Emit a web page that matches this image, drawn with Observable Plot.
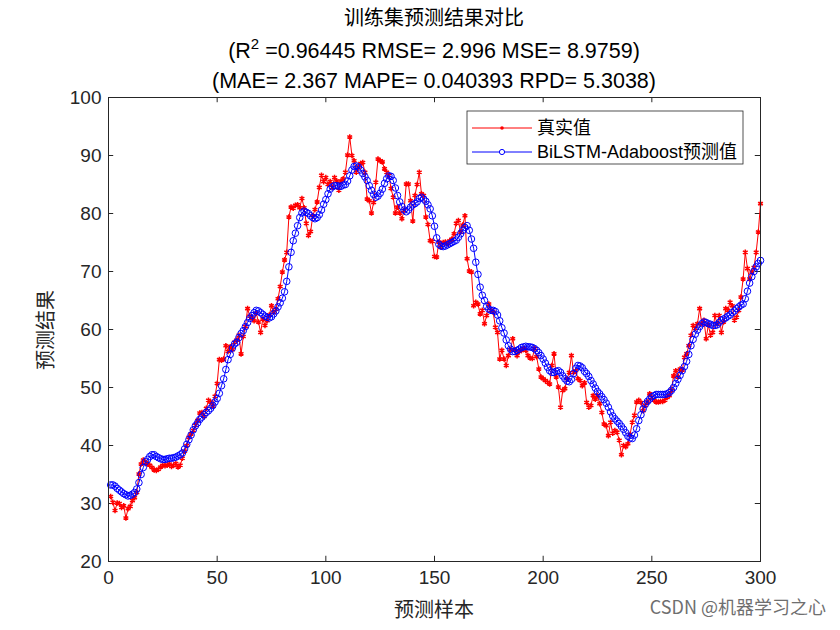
<!DOCTYPE html>
<html><head><meta charset="utf-8">
<script src="https://cdn.jsdelivr.net/npm/d3@7"></script>
<script src="https://cdn.jsdelivr.net/npm/@observablehq/plot@0.6"></script>
<style>body{margin:0;background:#fff} svg{display:block}</style>
</head><body><div id="chart"></div>
<script>
const actual = [
31.2,30.2,28.8,30.1,30.0,29.3,29.6,27.5,29.1,29.5,
30.5,31.0,31.9,35.1,36.8,37.5,37.1,36.8,36.6,36.2,
35.8,35.7,35.9,36.3,36.6,36.5,36.6,36.8,36.4,36.6,
36.9,36.3,36.6,37.8,39.0,40.0,41.4,42.0,42.6,43.5,
44.3,45.6,45.7,45.0,46.4,47.8,47.5,46.8,48.5,50.7,
54.8,54.7,54.9,57.2,56.2,57.0,56.5,57.8,58.2,59.0,
55.8,58.8,60.5,63.6,62.3,62.0,61.5,62.8,61.3,59.5,
61.8,60.7,61.5,62.5,64.1,63.0,63.5,65.3,67.4,69.9,
72.0,73.3,79.4,81.1,80.9,81.4,81.5,81.0,82.6,81.0,
78.3,76.2,76.9,79.6,80.7,82.0,84.5,86.6,85.5,86.2,
85.0,85.5,84.5,86.2,85.6,84.0,85.6,86.0,87.1,90.1,
93.2,90.0,89.1,87.1,88.0,88.6,88.8,87.1,82.5,82.2,
80.1,81.9,85.4,89.4,89.1,88.9,87.7,87.1,86.6,84.3,
82.8,80.1,81.1,80.1,79.1,80.5,85.1,85.1,82.2,78.7,
83.1,85.0,87.1,83.4,83.1,79.4,78.1,75.3,75.2,72.6,
72.5,75.1,74.2,75.0,75.1,74.8,75.3,75.6,76.5,78.3,
78.8,76.8,78.0,79.6,72.2,70.1,69.9,64.1,64.7,64.4,
62.7,63.3,61.0,62.4,64.4,63.3,63.0,60.4,59.5,54.9,
56.4,54.9,53.8,55.5,56.5,58.4,56.4,55.5,56.2,56.4,
56.7,56.4,55.5,55.1,55.0,56.7,55.3,53.2,51.8,51.5,
51.2,50.9,50.6,53.8,55.8,51.8,50.1,46.6,49.5,49.8,
51.5,52.6,55.5,52.6,52.9,51.5,51.2,50.3,50.8,47.4,
46.6,46.9,48.6,48.0,48.6,47.2,45.7,43.7,43.4,41.7,
44.0,42.1,42.6,42.3,40.9,38.4,40.0,39.8,40.3,41.9,
44.0,45.2,47.5,47.8,47.4,46.0,46.9,47.5,48.9,48.3,
47.8,47.5,47.5,47.6,47.6,47.8,48.3,48.6,49.5,52.0,
52.9,51.8,53.2,53.0,55.2,55.8,57.2,59.0,60.7,60.2,
61.0,63.6,61.0,61.6,58.4,60.8,59.0,59.5,62.4,61.0,
62.4,59.5,61.3,63.6,63.3,64.7,64.1,61.6,62.1,63.3,
65.6,68.7,73.3,70.5,68.7,69.9,70.7,73.3,76.8,81.7
];
const predicted = [
33.2,33.2,33.0,32.6,32.3,32.0,31.7,31.5,31.3,31.4,
31.6,31.9,32.5,33.6,35.0,36.2,37.2,37.6,38.1,38.4,
38.4,38.1,37.9,37.7,37.6,37.6,37.7,37.8,37.8,37.9,
38.0,38.2,38.4,38.7,39.4,40.2,41.0,41.8,42.7,43.4,
43.9,44.5,44.9,45.3,45.7,46.0,46.4,46.9,47.5,48.1,
49.0,50.3,51.5,53.1,54.8,55.7,56.8,57.5,57.8,58.6,
59.3,59.8,60.5,61.2,61.9,62.4,62.9,63.3,63.2,62.9,
62.6,62.3,62.1,62.0,62.2,62.7,63.2,63.9,64.6,65.4,
66.5,68.3,70.8,73.3,75.3,76.6,77.9,79.3,80.1,80.4,
80.2,80.0,79.6,79.3,79.1,79.3,79.8,80.6,81.6,82.4,
83.4,84.2,84.6,84.8,84.8,84.7,84.7,84.9,85.0,85.6,
86.5,87.5,88.1,88.2,88.0,87.5,86.9,86.3,85.7,84.8,
84.0,83.3,82.8,83.0,83.5,84.2,85.2,86.0,86.5,86.4,
85.7,84.4,83.1,82.0,81.2,80.6,80.3,80.6,81.1,81.5,
81.7,82.0,82.6,82.8,82.5,82.1,81.5,80.8,79.6,77.8,
75.8,74.7,74.4,74.3,74.4,74.6,74.8,75.0,75.2,75.4,
75.9,76.5,77.1,77.6,77.9,77.1,75.6,74.0,71.6,69.5,
67.3,65.9,65.0,64.0,63.5,63.3,63.3,63.1,62.5,61.5,
60.3,59.4,58.2,57.2,56.6,56.2,56.2,56.4,56.6,56.9,
57.0,57.1,57.0,57.0,56.9,56.7,56.4,56.0,55.5,54.9,
54.2,53.5,52.9,52.6,52.6,52.8,52.9,52.6,52.0,51.5,
51.1,51.0,51.4,52.4,53.3,53.8,53.7,53.4,52.8,52.4,
51.9,51.2,50.6,49.9,49.3,48.9,48.4,47.9,47.3,46.6,
45.8,45.1,44.6,44.2,43.8,43.3,42.8,42.2,41.6,41.3,
41.2,41.8,42.9,44.3,45.3,46.3,47.1,47.6,48.0,48.4,
48.6,48.8,48.8,48.8,48.8,48.8,48.9,49.1,49.5,50.0,
50.7,51.4,52.1,52.9,53.6,54.5,55.7,57.2,58.3,59.2,
59.9,60.5,61.0,61.3,61.2,61.0,60.9,60.7,60.7,60.8,
61.2,61.6,61.8,62.0,62.3,62.5,62.9,63.2,63.6,63.9,
64.2,64.4,65.3,66.6,68.0,69.1,70.0,70.8,71.4,71.9
];
const xTicks = [0, 50, 100, 150, 200, 250, 300];
const yTicks = [20, 30, 40, 50, 60, 70, 80, 90, 100];
const seriesNames = ["真实值", "BiLSTM-Adaboost预测值"];
const seriesColors = ["red", "blue"];
const title1 = "训练集预测结果对比";
const title2a = "(R", title2sup = "2", title2b = " =0.96445 RMSE= 2.996 MSE= 8.9759)";
const title3 = "(MAE= 2.367 MAPE= 0.040393 RPD= 5.3038)";
const xLabel = "预测样本";
const yLabel = "预测结果";
const watermark = "CSDN @机器学习之心";

const actualData = actual.map((v, i) => ({i: i + 1, v}));
const predData = predicted.map((v, i) => ({i: i + 1, v}));

const axisColor = "#262626";
const latin = "Liberation Sans, Arial, sans-serif";
const cjk = "'Noto Sans CJK SC', sans-serif";

const plot = Plot.plot({
  width: 840, height: 630,
  marginLeft: 108, marginRight: 80, marginTop: 97, marginBottom: 69,
  style: {fontFamily: latin, fontSize: "19px", background: "#fff", color: axisColor, overflow: "visible"},
  x: {domain: [0, 300], label: null},
  y: {domain: [20, 100], label: null},
  marks: [
    Plot.axisX(xTicks, {tickSize: 0, tickPadding: 9, fontSize: 19, label: null}),
    Plot.axisY(yTicks, {tickSize: 0, tickPadding: 7, fontSize: 19, label: null}),
    Plot.ruleY(yTicks, {x1: 0, x2: 2.4, stroke: axisColor}),
    Plot.ruleY(yTicks, {x1: 297.6, x2: 300, stroke: axisColor}),
    Plot.ruleX(xTicks, {y1: 20, y2: 20.9, stroke: axisColor}),
    Plot.ruleX(xTicks, {y1: 99.1, y2: 100, stroke: axisColor}),
    Plot.line(actualData, {x: "i", y: "v", stroke: seriesColors[0], strokeWidth: 1}),
    Plot.dot(actualData, {x: "i", y: "v", symbol: "asterisk", r: 2.6, stroke: seriesColors[0], strokeWidth: 1.5}),
    Plot.line(predData, {x: "i", y: "v", stroke: seriesColors[1], strokeWidth: 1}),
    Plot.dot(predData, {x: "i", y: "v", r: 3.3, stroke: seriesColors[1], fill: "none", strokeWidth: 1}),
    Plot.frame({stroke: axisColor})
  ]
});

const svg = d3.select(plot);
const cx = 434;
svg.append("text").attr("x", cx).attr("y", 25).attr("text-anchor", "middle")
  .attr("font-family", cjk).attr("font-size", 20).attr("fill", "#000").text(title1);
const t2 = svg.append("text").attr("x", cx).attr("y", 58).attr("text-anchor", "middle")
  .attr("font-family", latin).attr("font-size", 21.5).attr("fill", "#000");
t2.append("tspan").text(title2a);
t2.append("tspan").attr("dy", -9).attr("font-size", 15).text(title2sup);
t2.append("tspan").attr("dy", 9).text(title2b);
svg.append("text").attr("x", cx).attr("y", 88).attr("text-anchor", "middle")
  .attr("font-family", latin).attr("font-size", 21.5).attr("fill", "#000").text(title3);

svg.append("text").attr("x", cx).attr("y", 617).attr("text-anchor", "middle")
  .attr("font-family", cjk).attr("font-size", 20).attr("fill", axisColor).text(xLabel);
svg.append("text").attr("transform", "translate(53,330) rotate(-90)").attr("text-anchor", "middle")
  .attr("font-family", cjk).attr("font-size", 20).attr("fill", axisColor).text(yLabel);

// legend
const lg = svg.append("g");
lg.append("rect").attr("x", 467).attr("y", 111).attr("width", 276).attr("height", 53)
  .attr("fill", "#fff").attr("stroke", axisColor).attr("stroke-width", 0.8);
const rows = [128, 152];
rows.forEach((ry, k) => {
  lg.append("line").attr("x1", 472).attr("x2", 532).attr("y1", ry).attr("y2", ry)
    .attr("stroke", seriesColors[k]).attr("stroke-width", 1);
  if (k === 0) {
    lg.append("circle").attr("cx", 502).attr("cy", ry).attr("r", 1.8).attr("fill", seriesColors[k]);
  } else {
    lg.append("circle").attr("cx", 502).attr("cy", ry).attr("r", 2.6).attr("fill", "#fff")
      .attr("stroke", seriesColors[k]).attr("stroke-width", 1);
  }
  const t = lg.append("text").attr("x", 537).attr("y", ry + 6).attr("text-anchor", "start")
    .attr("font-size", 18).attr("fill", "#000");
  if (k === 0) {
    t.attr("font-family", cjk).text(seriesNames[0]);
  } else {
    t.append("tspan").attr("font-family", latin).text("BiLSTM-Adaboost");
    t.append("tspan").attr("font-family", cjk).text("预测值");
  }
});

svg.append("text").attr("x", 826).attr("y", 614).attr("text-anchor", "end")
  .attr("font-family", cjk).attr("font-size", 18).attr("fill", "#6f6f6f").text(watermark);

document.getElementById("chart").appendChild(plot);
</script>
</body></html>
